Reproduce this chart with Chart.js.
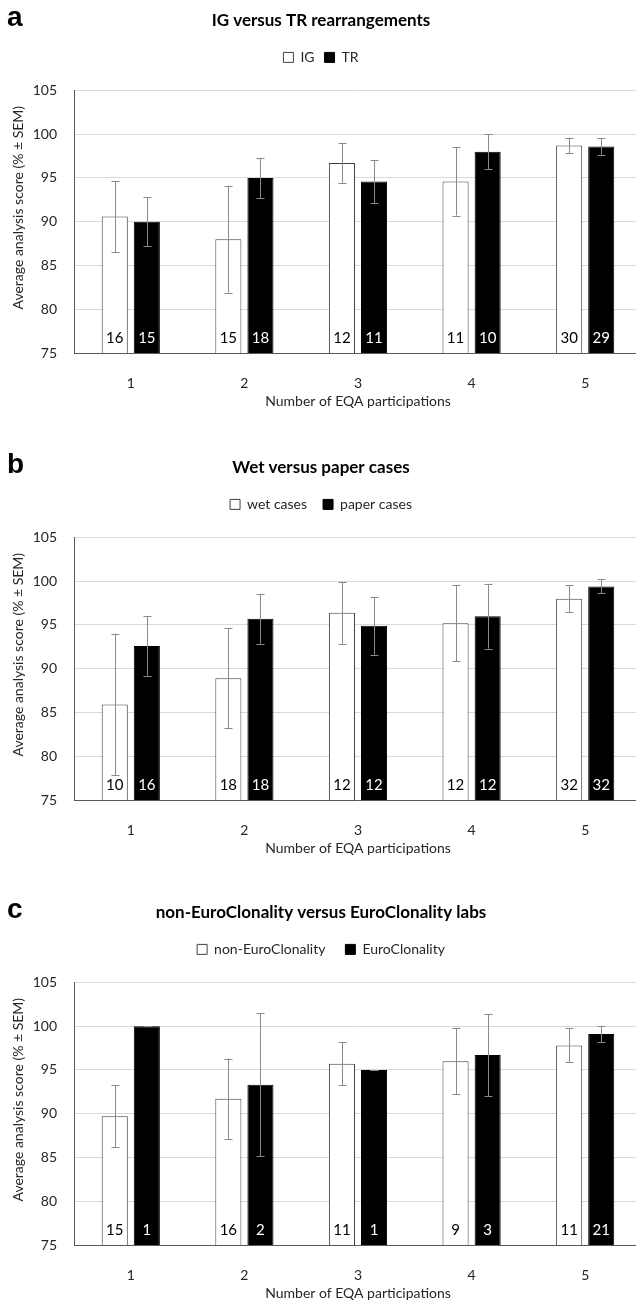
<!DOCTYPE html>
<html>
<head>
<meta charset="utf-8">
<script src="https://cdn.jsdelivr.net/npm/chart.js@4.4.1/dist/chart.umd.min.js"></script>
<style>
html,body{margin:0;padding:0;background:#fff;overflow:hidden;width:636px;height:1303px;position:relative;}
canvas{position:absolute;left:0;}
</style>
</head>
<body>
<canvas id="pa" width="645" height="420" style="top:0px"></canvas>
<canvas id="pb" width="645" height="420" style="top:447px"></canvas>
<canvas id="pc" width="645" height="420" style="top:892px"></canvas>
<script>
// ---- shared axis data ----
const categories = ['1', '2', '3', '4', '5'];
const yMin = 75, yMax = 105, yStep = 5;
const xAxisTitle = 'Number of EQA participations';
const yAxisTitle = 'Average analysis score (% \u00B1 SEM)';

// ---- panel a: IG versus TR rearrangements ----
const igScores = [90.6, 88.0, 96.7, 94.6, 98.7];
const igSem    = [4.05, 6.1, 2.25, 3.9, 0.9];
const igN      = [16, 15, 12, 11, 30];
const trScores = [90.0, 95.0, 94.6, 98.0, 98.6];
const trSem    = [2.8, 2.3, 2.45, 2.0, 0.95];
const trN      = [15, 18, 11, 10, 29];

// ---- panel b: wet versus paper cases ----
const wetScores   = [85.9, 88.9, 96.4, 95.2, 98.0];
const wetSem      = [8.1, 5.7, 3.55, 4.35, 1.55];
const wetN        = [10, 18, 12, 12, 32];
const paperScores = [92.6, 95.7, 94.9, 96.0, 99.4];
const paperSem    = [3.4, 2.85, 3.3, 3.7, 0.8];
const paperN      = [16, 18, 12, 12, 32];

// ---- panel c: non-EuroClonality versus EuroClonality labs ----
const nonEcScores = [89.7, 91.7, 95.7, 96.0, 97.8];
const nonEcSem    = [3.55, 4.6, 2.45, 3.75, 1.95];
const nonEcN      = [15, 16, 11, 9, 11];
const ecScores    = [100.0, 93.3, 95.0, 96.7, 99.1];
const ecSem       = [0, 8.15, 0, 4.7, 0.95];
const ecN         = [1, 2, 1, 3, 21];

const FONT = 'Lato, "Noto Sans", sans-serif';
const TXT = '#262626';

const errorBars = {
  id: 'errorBars',
  afterDatasetsDraw(chart) {
    const ctx = chart.ctx, y = chart.scales.y;
    ctx.save();
    ctx.strokeStyle = '#8a8a8a';
    ctx.lineWidth = 1;
    chart.data.datasets.forEach((ds, i) => {
      const meta = chart.getDatasetMeta(i);
      meta.data.forEach((bar, j) => {
        const v = ds.data[j], e = ds.sem[j];
        const x = Math.round(bar.x) + 0.5;
        const yt = y.getPixelForValue(v + e), yb = y.getPixelForValue(v - e);
        ctx.beginPath();
        ctx.moveTo(x, yt); ctx.lineTo(x, yb);
        ctx.moveTo(x - 4, Math.round(yt) + 0.5); ctx.lineTo(x + 4, Math.round(yt) + 0.5);
        ctx.moveTo(x - 4, Math.round(yb) + 0.5); ctx.lineTo(x + 4, Math.round(yb) + 0.5);
        ctx.stroke();
      });
    });
    ctx.restore();
  }
};

const countLabels = {
  id: 'countLabels',
  afterDatasetsDraw(chart) {
    const ctx = chart.ctx;
    ctx.save();
    ctx.font = '15px ' + FONT;
    ctx.textAlign = 'center';
    ctx.textBaseline = 'alphabetic';
    chart.data.datasets.forEach((ds, i) => {
      ctx.fillStyle = ds.countColor;
      chart.getDatasetMeta(i).data.forEach((bar, j) => {
        ctx.fillText(String(ds.counts[j]), bar.x, chart.chartArea.bottom - 10);
      });
    });
    ctx.restore();
  }
};

const extras = {
  id: 'extras',
  beforeLayout(chart, args, opts) {
    const lg = chart.legend;
    if (lg && !lg._patched) {
      const orig = lg.fit;
      lg.fit = function () { orig.call(this); this.height += opts.legendExtra; };
      lg._patched = true;
    }
  },
  afterDraw(chart, args, opts) {
    const ctx = chart.ctx, a = chart.chartArea;
    ctx.save();
    ctx.fillStyle = '#000';
    ctx.font = 'bold 28px "Liberation Sans", Arial, sans-serif';
    ctx.textAlign = 'left';
    ctx.textBaseline = 'alphabetic';
    ctx.fillText(opts.letter, 7, 26);
    // y axis title
    ctx.font = '14px ' + FONT;
    ctx.fillStyle = TXT;
    ctx.textAlign = 'center';
    ctx.textBaseline = 'middle';
    ctx.translate(18, (a.top + a.bottom) / 2 - 14);
    ctx.rotate(-Math.PI / 2);
    ctx.fillText(yAxisTitle, 0, 0);
    ctx.restore();
  }
};

function makePanel(id, letter, title, labels, s1, e1, n1, s2, e2, n2, legendPad, titlePadBottom) {
  new Chart(document.getElementById(id), {
    type: 'bar',
    data: {
      labels: categories,
      datasets: [
        { label: labels[0], data: s1, sem: e1, counts: n1, countColor: '#000',
          backgroundColor: '#ffffff', borderColor: '#404040', borderWidth: 1, borderSkipped: false },
        { label: labels[1], data: s2, sem: e2, counts: n2, countColor: '#fff',
          backgroundColor: '#000000', borderColor: '#000000', borderWidth: 1, borderSkipped: false }
      ]
    },
    options: {
      responsive: false,
      animation: false,
      devicePixelRatio: 1,
      layout: { padding: { left: 0, right: 3, top: 0, bottom: 0 } },
      datasets: { bar: { categoryPercentage: 0.565, barPercentage: 0.8125 } },
      plugins: {
        tooltip: { enabled: false },
        title: { display: true, text: title, color: '#000',
                 font: { family: FONT, size: 17, weight: 'bold' },
                 padding: { top: 10, bottom: titlePadBottom } },
        legend: { display: true, position: 'top', align: 'center',
                  labels: { boxWidth: 10, boxHeight: 10, padding: legendPad, color: TXT,
                            font: { family: FONT, size: 14 } } },
        extras: { letter: letter, legendExtra: 16 }
      },
      scales: {
        x: {
          grid: { display: false },
          border: { display: true, color: '#595959', width: 1 },
          ticks: { color: TXT, font: { family: FONT, size: 14 }, padding: 14 },
          title: { display: true, text: xAxisTitle, color: TXT,
                   font: { family: FONT, size: 14 }, padding: { top: 0, bottom: 10 } },
          afterFit(s) { s.height = 67; }
        },
        y: {
          min: yMin, max: yMax,
          ticks: { stepSize: yStep, color: TXT, font: { family: FONT, size: 14 }, padding: 17 },
          grid: { color: '#d9d9d9', drawTicks: false, lineWidth: 1 },
          border: { display: true, color: '#595959', width: 1 },
          afterFit(s) { s.width = 74; }
        }
      }
    },
    plugins: [errorBars, countLabels, extras]
  });
}

makePanel('pa', 'a', 'IG versus TR rearrangements', ['IG', 'TR'],
  igScores, igSem, igN, trScores, trSem, trN, 10, 10);
makePanel('pb', 'b', 'Wet versus paper cases', ['wet cases', 'paper cases'],
  wetScores, wetSem, wetN, paperScores, paperSem, paperN, 16, 4);
makePanel('pc', 'c', 'non-EuroClonality versus EuroClonality labs', ['non-EuroClonality', 'EuroClonality'],
  nonEcScores, nonEcSem, nonEcN, ecScores, ecSem, ecN, 20, 0);
</script>
</body>
</html>
